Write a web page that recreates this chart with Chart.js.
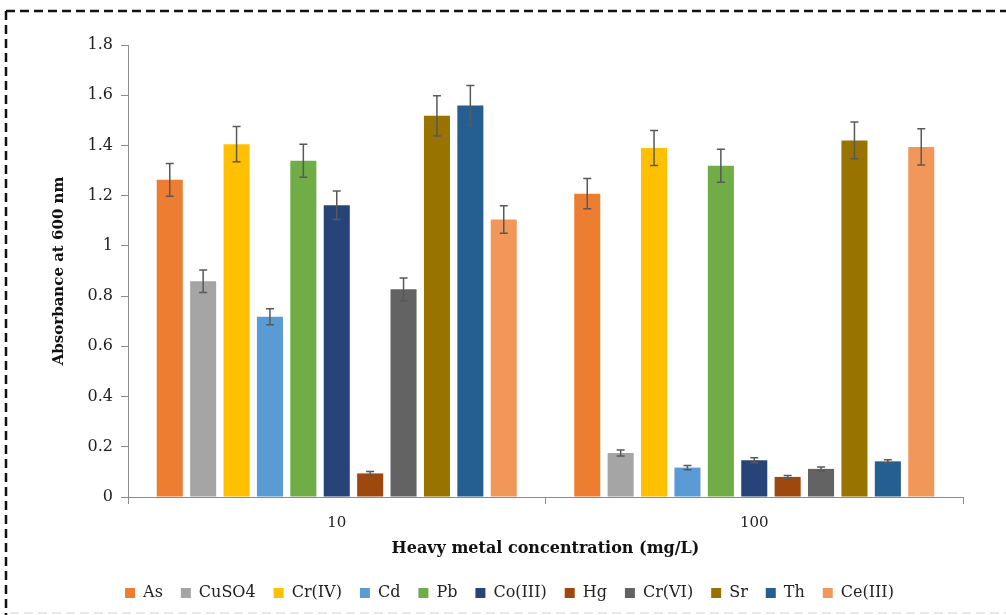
<!DOCTYPE html>
<html>
<head>
<meta charset="utf-8">
<script src="https://cdn.jsdelivr.net/npm/chart.js@4"></script>
<style>
  html, body { margin: 0; padding: 0; background: #fff; }
  #wrap { width: 1006px; height: 615px; position: relative; }
</style>
</head>
<body>
<div id="wrap"><canvas id="metalChart"></canvas></div>
<script>
// Datos del gráfico
const categories = ['10', '100'];
const metals = ['As', 'CuSO4', 'Cr(IV)', 'Cd', 'Pb', 'Co(III)', 'Hg', 'Cr(VI)', 'Sr', 'Th', 'Ce(III)'];
const values10 = [1.263, 0.859, 1.405, 0.718, 1.339, 1.162, 0.094, 0.827, 1.518, 1.559, 1.105];
const errors10 = [0.065, 0.045, 0.070, 0.032, 0.066, 0.057, 0.008, 0.045, 0.080, 0.080, 0.055];
const values100 = [1.208, 0.175, 1.390, 0.117, 1.319, 0.146, 0.080, 0.112, 1.420, 0.142, 1.394];
const errors100 = [0.060, 0.012, 0.070, 0.008, 0.066, 0.010, 0.006, 0.007, 0.073, 0.006, 0.072];
const yTicks = [0, 0.2, 0.4, 0.6, 0.8, 1, 1.2, 1.4, 1.6, 1.8];

const colors = ['#ED7D31', '#A5A5A5', '#FFC000', '#5B9BD5', '#70AD47', '#264478',
                '#9E480E', '#636363', '#997300', '#255E91', '#F1975A'];

const serif = "'DejaVu Serif', 'Liberation Serif', serif";
const axisGray = '#8c8c8c';

// Plugin para dibujar las barras de error
const errorBars = {
    id: 'errorBars',
    afterDatasetsDraw(chart) {
        const ctx = chart.ctx;
        const y = chart.scales.y;
        ctx.save();
        ctx.strokeStyle = '#595959';
        ctx.lineWidth = 1.5;
        chart.data.datasets.forEach((ds, i) => {
            const meta = chart.getDatasetMeta(i);
            if (meta.hidden) return;
            meta.data.forEach((bar, j) => {
                const v = ds.data[j], e = ds.errors[j];
                const top = y.getPixelForValue(v + e);
                const bot = y.getPixelForValue(v - e);
                ctx.beginPath();
                ctx.moveTo(bar.x, top); ctx.lineTo(bar.x, bot);
                ctx.moveTo(bar.x - 4, top); ctx.lineTo(bar.x + 4, top);
                ctx.moveTo(bar.x - 4, bot); ctx.lineTo(bar.x + 4, bot);
                ctx.stroke();
            });
        });
        ctx.restore();
    }
};

// Marco discontinuo alrededor de la figura
const dashedFrame = {
    id: 'dashedFrame',
    afterLayout(chart) {
        // desplazar un poco la leyenda hacia la derecha
        chart.legend.left += 8;
        chart.legend.right += 8;
    },
    beforeDraw(chart) {
        const ctx = chart.ctx;
        ctx.save();
        ctx.setLineDash([9, 5]);
        ctx.strokeStyle = '#111';
        ctx.lineWidth = 2.5;
        ctx.beginPath();
        ctx.moveTo(6, 11); ctx.lineTo(chart.width, 11);
        ctx.moveTo(6, 11); ctx.lineTo(6, chart.height);
        ctx.stroke();
        ctx.strokeStyle = 'rgba(0,0,0,0.12)';
        ctx.lineWidth = 1.5;
        ctx.beginPath();
        ctx.moveTo(10, 613); ctx.lineTo(chart.width, 613);
        ctx.stroke();
        ctx.restore();
    }
};

const datasets = metals.map((name, i) => ({
    label: name,
    data: [values10[i], values100[i]],
    errors: [errors10[i], errors100[i]],
    backgroundColor: colors[i],
    borderWidth: 0,
    categoryPercentage: 0.88,
    barPercentage: 0.78
}));

new Chart(document.getElementById('metalChart'), {
    type: 'bar',
    data: { labels: categories, datasets: datasets },
    plugins: [dashedFrame, errorBars],
    options: {
        responsive: true,
        maintainAspectRatio: false,
        animation: false,
        layout: { padding: { left: 40, right: 43, top: 45, bottom: 4 } },
        plugins: {
            tooltip: { enabled: false },
            legend: {
                position: 'bottom',
                labels: {
                    boxWidth: 10,
                    boxHeight: 10,
                    padding: 18,
                    color: '#222',
                    font: { family: serif, size: 16 }
                }
            }
        },
        scales: {
            x: {
                grid: { display: true, drawOnChartArea: false, offset: true, tickLength: 7, color: axisGray },
                border: { color: axisGray, width: 1 },
                ticks: { color: '#222', font: { family: serif, size: 15 }, padding: 10 },
                title: {
                    display: true,
                    text: 'Heavy metal concentration (mg/L)',
                    color: '#111',
                    font: { family: serif, size: 16, weight: 'bold' },
                    padding: { top: 2, bottom: 9 }
                },
                afterFit(scale) { scale.height = 70; }
            },
            y: {
                min: 0,
                max: 1.8,
                afterBuildTicks(scale) { scale.ticks = yTicks.map(v => ({ value: v })); },
                grid: { display: true, drawOnChartArea: false, tickLength: 7, color: axisGray },
                border: { color: axisGray, width: 1 },
                ticks: {
                    color: '#222',
                    font: { family: serif, size: 16 },
                    padding: 8,
                    callback: v => String(Number(v.toFixed(1)))
                },
                title: {
                    display: true,
                    text: 'Absorbance at 600 nm',
                    color: '#111',
                    font: { family: serif, size: 15, weight: 'bold' },
                    padding: { top: 10, bottom: 0 }
                },
                afterFit(scale) { scale.width = 88; }
            }
        }
    }
});
</script>
</body>
</html>
